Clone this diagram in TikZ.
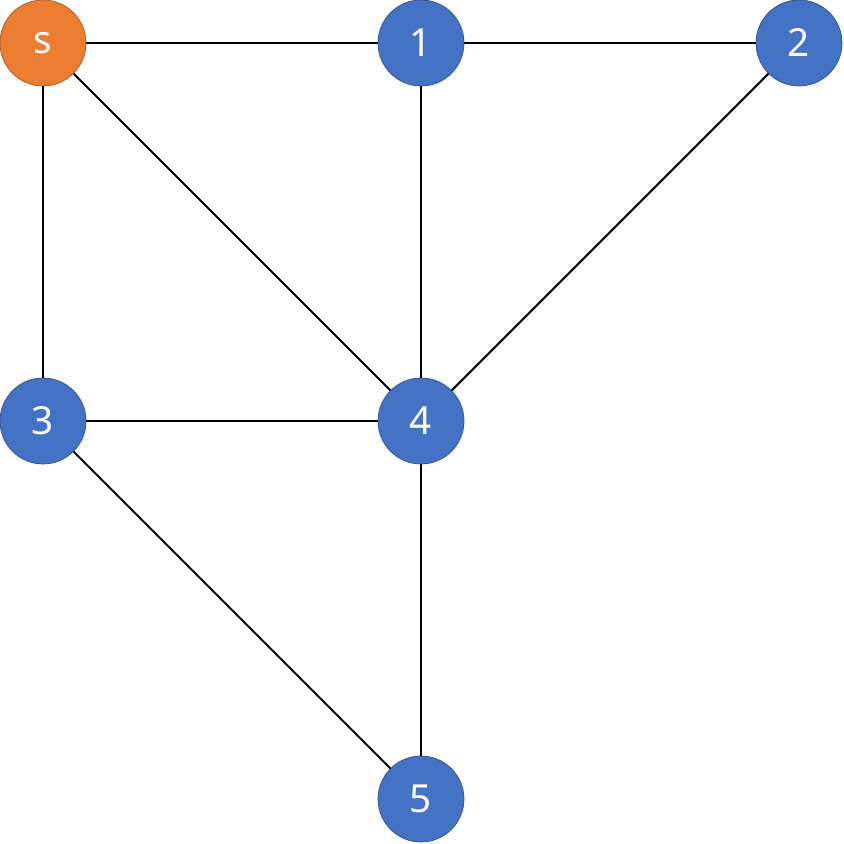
\documentclass[tikz,border=0pt]{standalone}
\usepackage{fontspec}
\setmainfont{Noto Sans}
\definecolor{nodeblue}{HTML}{4472C4}
\definecolor{nodeorange}{HTML}{ED7D31}
\begin{document}
\begin{tikzpicture}[x=0.02cm, y=-0.02cm]
        % graph
        \tikzset{vert/.style={circle, draw=nodeblue!70!black, fill=nodeblue, minimum size=1.72cm, inner sep=0pt, text=white, font=\fontsize{22}{24}\selectfont}}
        \useasboundingbox (0,0) rectangle (843,844);
        \node[vert, fill=nodeorange, draw=nodeorange!70!black] (s) at (43, 43) {s};
        \node[vert] (1) at (421, 43) {1};
        \node[vert] (2) at (799, 43) {2};
        \node[vert] (3) at (43, 421) {3};
        \node[vert] (4) at (421, 421) {4};
        \node[vert] (5) at (421, 799) {5};

        \draw[line width=1.2pt] (s) -- (1);
        \draw[line width=1.2pt] (1) -- (2);
        \draw[line width=1.2pt] (s) -- (3);
        \draw[line width=1.2pt] (s) -- (4);
        \draw[line width=1.2pt] (1) -- (4);
        \draw[line width=1.2pt] (2) -- (4);
        \draw[line width=1.2pt] (3) -- (4);
        \draw[line width=1.2pt] (3) -- (5);
        \draw[line width=1.2pt] (4) -- (5);
\end{tikzpicture}
\end{document}
